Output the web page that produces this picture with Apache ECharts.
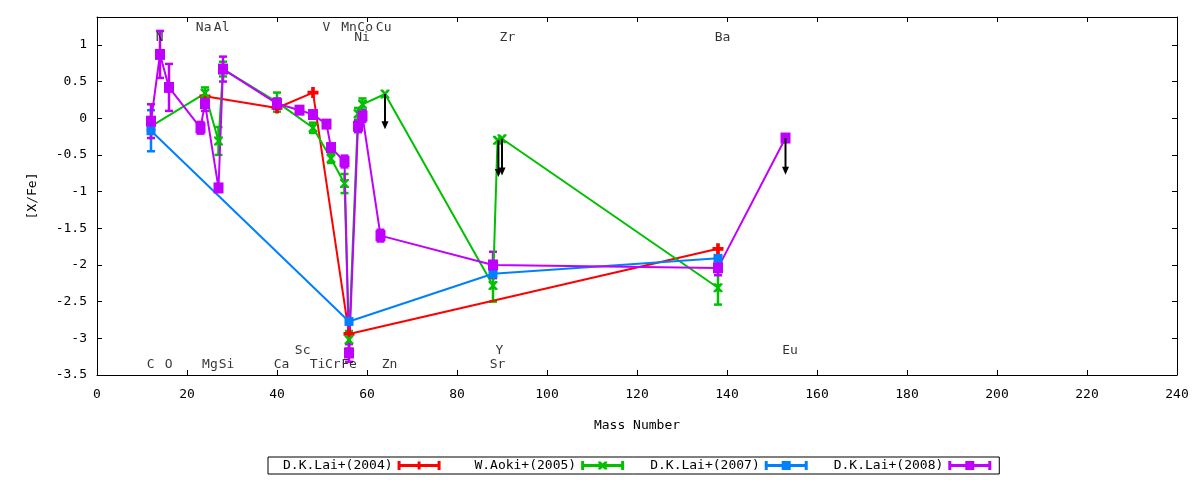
<!DOCTYPE html>
<html>
<head>
<meta charset="utf-8">
<title>[X/Fe] vs Mass Number</title>
<script src="https://cdn.jsdelivr.net/npm/echarts@6/dist/echarts.min.js"></script>
<style>
  * { margin: 0; padding: 0; }
  #main { width: 1200px; height: 480px; }
</style>
</head>
<body>
<div id="main"></div>
<script>
// D.K.Lai+(2004)
var lai04Mass = [24, 40, 48, 56, 138];
var lai04Val  = [0.30, 0.14, 0.35, -2.94, -1.78];
var lai04Err  = [0, 0, 0, 0, 0];

// W.Aoki+(2005)
var aoki05Mass = [12, 24, 27, 28, 40, 48, 52, 55, 56, 58, 59, 64, 88, 89, 90, 138];
var aoki05Val  = [-0.11, 0.34, -0.31, 0.67, 0.22, -0.13, -0.55, -0.89, -3.02, 0.06, 0.19, 0.33, -2.28, -0.30, -0.28, -2.31];
var aoki05Err  = [0, 0.08, 0.19, 0.10, 0.13, 0.07, 0.06, 0.13, 0.12, 0.08, 0.08, 0, 0.22, 0, 0, 0.23];

// D.K.Lai+(2007)
var lai07Mass = [12, 56, 88, 138];
var lai07Val  = [-0.17, -2.77, -2.12, -1.91];
var lai07Err  = [0.28, 0, 0, 0];

// D.K.Lai+(2008)
var lai08Mass = [12, 14, 16, 23, 24, 27, 28, 40, 45, 48, 51, 52, 55, 56, 58, 59, 63, 88, 138, 153];
var lai08Val  = [-0.04, 0.87, 0.42, -0.13, 0.20, -0.95, 0.67, 0.20, 0.11, 0.05, -0.08, -0.40, -0.59, -3.20, -0.11, 0.03, -1.60, -2.00, -2.04, -0.27];
var lai08Err  = [0.23, 0.32, 0.32, 0.08, 0.10, 0.05, 0.17, 0.07, 0, 0, 0, 0.05, 0.08, 0.12, 0.08, 0.08, 0.08, 0.18, 0.10, 0];

// upper limits (arrows)
var limitMass = [64, 89.2, 90, 153];
var limitFrom = [0.33, -0.30, -0.28, -0.27];
var limitTo   = [-0.15, -0.80, -0.78, -0.77];

// element names
var elemNames = ['Na', 'Al', 'V', 'Mn', 'Co', 'Cu',
                 'N', 'Ni', 'Zr', 'Ba',
                 'Sc', 'Y', 'Eu',
                 'C', 'O', 'Mg', 'Si', 'Ca', 'Ti', 'Cr', 'Fe', 'Zn', 'Sr'];
var elemX = [23.7, 27.7, 51, 56, 59.6, 63.7,
             13.9, 58.9, 91.2, 139,
             45.7, 89.4, 154,
             11.9, 15.9, 25.1, 28.8, 41, 49, 52.4, 56, 65, 89];
var elemY = [1.23, 1.23, 1.23, 1.23, 1.23, 1.23,
             1.10, 1.10, 1.10, 1.10,
             -3.17, -3.17, -3.17,
             -3.36, -3.36, -3.36, -3.36, -3.36, -3.36, -3.36, -3.36, -3.36, -3.36];

var FONT = 'DejaVu Sans Mono';

function zip3(a, b, c) {
    var out = [];
    for (var i = 0; i < a.length; i++) out.push([a[i], b[i], c[i]]);
    return out;
}
function zip2(a, b) {
    var out = [];
    for (var i = 0; i < a.length; i++) out.push([a[i], b[i]]);
    return out;
}

function errorBars(color) {
    return function (params, api) {
        var x = api.value(0), y = api.value(1), e = api.value(2);
        if (!e) return;
        var hi = api.coord([x, y + e]);
        var lo = api.coord([x, y - e]);
        var w = 4;
        var st = { stroke: color, lineWidth: 2.5 };
        return {
            type: 'group',
            children: [
                { type: 'line', shape: { x1: hi[0], y1: hi[1], x2: lo[0], y2: lo[1] }, style: st },
                { type: 'line', shape: { x1: hi[0] - w, y1: hi[1], x2: hi[0] + w, y2: hi[1] }, style: st },
                { type: 'line', shape: { x1: lo[0] - w, y1: lo[1], x2: lo[0] + w, y2: lo[1] }, style: st }
            ]
        };
    };
}

function arrowItem(params, api) {
    var x = api.value(0);
    var p0 = api.coord([x, api.value(1)]);
    var p1 = api.coord([x, api.value(2)]);
    return {
        type: 'group',
        children: [
            { type: 'line', shape: { x1: p0[0], y1: p0[1], x2: p1[0], y2: p1[1] - 6 }, style: { stroke: '#000', lineWidth: 2 } },
            { type: 'polygon', shape: { points: [[p1[0] - 3.5, p1[1] - 8], [p1[0] + 3.5, p1[1] - 8], [p1[0], p1[1]]] }, style: { fill: '#000' } }
        ]
    };
}

var plusSym  = 'path://M3,0H6V3H9V6H6V9H3V6H0V3H3Z';
var crossSym = 'path://M0,0L2.5,0L4.5,2.5L6.5,0L9,0L9,1.5L6,4.5L9,7.5L9,9L6.5,9L4.5,6.5L2.5,9L0,9L0,7.5L3,4.5L0,1.5Z';

var barPart = 'M0,3H43V6H0Z M0,0H3V9H0Z M40,0H43V9H40Z ';
var iconPlus   = 'path://' + barPart + 'M20,0.5H23V8.5H20Z';
var iconCross  = 'path://' + barPart + 'M17,0.5L19.5,0.5L21.5,2.5L23.5,0.5L26,0.5L26,2L23.5,4.5L26,7L26,8.5L23.5,8.5L21.5,6.5L19.5,8.5L17,8.5L17,7L19.5,4.5L17,2Z';
var iconSquare = 'path://' + barPart + 'M17,0H26V9H17Z';

var sets = [
    { name: 'D.K.Lai+(2004)', color: '#ff0000', mass: lai04Mass, val: lai04Val, err: lai04Err, symbol: plusSym, size: 11, icon: iconPlus },
    { name: 'W.Aoki+(2005)', color: '#00c000', mass: aoki05Mass, val: aoki05Val, err: aoki05Err, symbol: crossSym, size: 9, icon: iconCross },
    { name: 'D.K.Lai+(2007)', color: '#0080ff', mass: lai07Mass, val: lai07Val, err: lai07Err, symbol: 'rect', size: 9, icon: iconSquare },
    { name: 'D.K.Lai+(2008)', color: '#c000ff', mass: lai08Mass, val: lai08Val, err: lai08Err, symbol: 'rect', size: [10, 11], icon: iconSquare }
];

var series = [];
sets.forEach(function (s) {
    series.push({
        name: s.name + ' err',
        type: 'custom',
        renderItem: errorBars(s.color),
        data: zip3(s.mass, s.val, s.err),
        encode: { x: 0, y: 1 },
        itemStyle: { color: s.color },
        clip: true,
        silent: true
    });
    series.push({
        name: s.name,
        type: 'line',
        data: zip2(s.mass, s.val),
        symbol: s.symbol,
        symbolSize: s.size,
        showSymbol: true,
        color: s.color,
        itemStyle: { color: s.color },
        lineStyle: { color: s.color, width: 2 },
        emphasis: { disabled: true }
    });
});

series.push({
    name: 'limits',
    type: 'custom',
    renderItem: arrowItem,
    data: zip3(limitMass, limitFrom, limitTo),
    encode: { x: 0, y: [1, 2] },
    z: 5,
    silent: true
});

var elemData = [];
for (var i = 0; i < elemNames.length; i++) {
    elemData.push({ name: elemNames[i], value: [elemX[i], elemY[i]] });
}
series.push({
    name: 'elements',
    type: 'scatter',
    data: elemData,
    symbol: 'circle',
    symbolSize: 1,
    itemStyle: { color: 'rgba(0,0,0,0)' },
    silent: true,
    z: 6,
    label: {
        show: true,
        position: 'inside',
        formatter: function (p) { return p.name; },
        color: '#000',
        fontFamily: FONT,
        fontSize: 13
    }
});

var axisLineStyle = { show: true, onZero: false, lineStyle: { color: '#000', width: 1 } };
var tickStyle = { show: true, inside: true, length: 5, lineStyle: { color: '#000' } };
var labelStyle = { color: '#000', fontFamily: FONT, fontSize: 13 };

var chart = echarts.init(document.getElementById('main'));
chart.setOption({
    animation: false,
    backgroundColor: '#fff',
    grid: { left: 97, right: 23, top: 17, bottom: 105 },
    legend: {
        data: sets.map(function (s) { return { name: s.name, icon: s.icon }; }),
        // gnuplot right-justifies key titles: pad the shorter one
        formatter: function (name) {
            while (name.length < 14) name = ' ' + name;
            return name;
        },
        left: 268,
        bottom: 6,
        align: 'right',
        itemWidth: 43,
        itemHeight: 14,
        itemGap: 26,
        padding: [2, 8, 2, 15],
        borderColor: '#000',
        borderWidth: 1,
        borderRadius: 0,
        selectedMode: false,
        textStyle: { color: '#000', fontFamily: FONT, fontSize: 13 }
    },
    xAxis: [{
        type: 'value',
        min: 0, max: 240, interval: 20,
        position: 'bottom',
        name: 'Mass Number',
        nameLocation: 'middle',
        nameGap: 44,
        nameTextStyle: labelStyle,
        axisLine: axisLineStyle,
        axisTick: tickStyle,
        axisLabel: { color: '#000', fontFamily: FONT, fontSize: 13, margin: 13 },
        splitLine: { show: false }
    }, {
        type: 'value',
        min: 0, max: 240, interval: 20,
        position: 'top',
        axisLine: axisLineStyle,
        axisTick: tickStyle,
        axisLabel: { show: false },
        splitLine: { show: false }
    }],
    yAxis: [{
        type: 'value',
        min: -3.5, max: 1.38, interval: 0.5,
        position: 'left',
        name: '[X/Fe]',
        nameLocation: 'middle',
        nameGap: 58,
        nameTextStyle: labelStyle,
        axisLine: axisLineStyle,
        axisTick: tickStyle,
        axisLabel: {
            color: '#000', fontFamily: FONT, fontSize: 13, margin: 10,
            formatter: function (v) {
                return Math.abs(v * 2 - Math.round(v * 2)) < 1e-6 ? String(Math.round(v * 2) / 2) : '';
            }
        },
        splitLine: { show: false }
    }, {
        type: 'value',
        min: -3.5, max: 1.38, interval: 0.5,
        position: 'right',
        axisLine: axisLineStyle,
        axisTick: tickStyle,
        axisLabel: { show: false },
        splitLine: { show: false }
    }],
    series: series
});
</script>
</body>
</html>
